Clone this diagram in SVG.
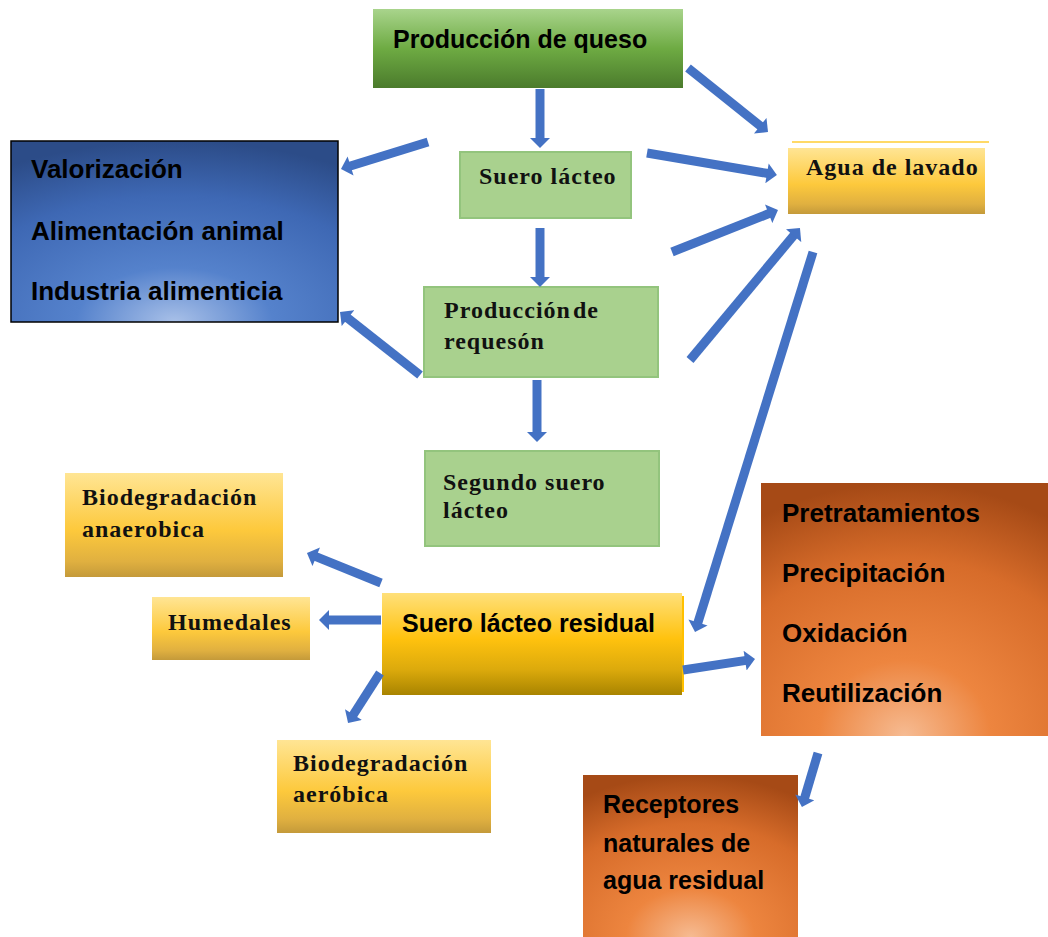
<svg xmlns="http://www.w3.org/2000/svg" width="1048" height="937" viewBox="0 0 1048 937">
<defs>
  <linearGradient id="gTop" x1="0" y1="0" x2="0" y2="1">
    <stop offset="0" stop-color="#a9d48c"/>
    <stop offset="0.5" stop-color="#6eab43"/>
    <stop offset="1" stop-color="#4b7b2c"/>
  </linearGradient>
  <radialGradient id="gBlue" cx="0.5" cy="1" r="1" fx="0.5" fy="1">
    <stop offset="0" stop-color="#a8c0e8"/>
    <stop offset="0.3" stop-color="#5582cc"/>
    <stop offset="0.7" stop-color="#3e68b4"/>
    <stop offset="1" stop-color="#2c4c88"/>
  </radialGradient>
  <linearGradient id="gYel" x1="0" y1="0" x2="0" y2="1">
    <stop offset="0" stop-color="#ffe594"/>
    <stop offset="0.55" stop-color="#fdc93c"/>
    <stop offset="0.85" stop-color="#e0b040"/>
    <stop offset="1" stop-color="#c49a3a"/>
  </linearGradient>
  <linearGradient id="gRes" x1="0" y1="0" x2="0" y2="1">
    <stop offset="0" stop-color="#ffe07a"/>
    <stop offset="0.45" stop-color="#ffc20e"/>
    <stop offset="0.75" stop-color="#dcaa0c"/>
    <stop offset="1" stop-color="#a88400"/>
  </linearGradient>
  <radialGradient id="gOr" cx="0.5" cy="1" r="1" fx="0.5" fy="1">
    <stop offset="0" stop-color="#f6bb92"/>
    <stop offset="0.3" stop-color="#ed853f"/>
    <stop offset="0.7" stop-color="#d76c2a"/>
    <stop offset="1" stop-color="#a64a16"/>
  </radialGradient>
  <marker id="ah" viewBox="0 0 10 20" refX="1" refY="10" markerUnits="userSpaceOnUse" markerWidth="11" markerHeight="20" orient="auto">
    <path d="M0,0 L10,10 L0,20 z" fill="#4472c4"/>
  </marker>
</defs>
<style>
  .sans{font-family:"Liberation Sans",Arial,sans-serif;font-weight:bold;font-size:25px;fill:#000}
  .big{font-size:26px}
  .serif{font-family:"Liberation Serif","Times New Roman",serif;font-weight:bold;font-size:24px;letter-spacing:1px;fill:#111}
  .lg{fill:#a9d18e;stroke:#93c47d;stroke-width:2}
  .arr{stroke:#4472c4;stroke-width:9;fill:none;marker-end:url(#ah)}
</style>
<rect width="1048" height="937" fill="#fff"/>

<g id="produccion-queso">
  <rect x="373" y="9" width="310" height="79" fill="url(#gTop)"/>
  <text class="sans" x="393" y="48">Producción de queso</text>
</g>
<g id="valorizacion">
  <rect x="11" y="141" width="327" height="181" fill="url(#gBlue)" stroke="#000" stroke-width="1.5"/>
  <text class="sans big" x="31" y="178">Valorización</text>
  <text class="sans big" x="31" y="240">Alimentación animal</text>
  <text class="sans big" x="31" y="300">Industria alimenticia</text>
</g>
<g id="suero-lacteo">
  <rect class="lg" x="460" y="152" width="171" height="66"/>
  <text class="serif" x="479" y="184" letter-spacing="0.3">Suero lácteo</text>
</g>
<g id="produccion-requeson">
  <rect class="lg" x="424" y="287" width="234" height="90"/>
  <text class="serif" x="444" y="318" word-spacing="-5">Producción de</text>
  <text class="serif" x="444" y="349">requesón</text>
</g>
<g id="segundo-suero">
  <rect class="lg" x="425" y="451" width="234" height="95"/>
  <text class="serif" x="443" y="490">Segundo suero</text>
  <text class="serif" x="443" y="518">lácteo</text>
</g>
<g id="agua-lavado">
  <line x1="792" y1="142" x2="989" y2="142" stroke="#ffd966" stroke-width="2"/>
  <rect x="788" y="148" width="197" height="66" fill="url(#gYel)"/>
  <text class="serif" x="806" y="175" letter-spacing="0.3">Agua de lavado</text>
</g>
<g id="biodeg-anaerobica">
  <rect x="65" y="473" width="218" height="104" fill="url(#gYel)"/>
  <text class="serif" x="82" y="505">Biodegradación</text>
  <text class="serif" x="82" y="537">anaerobica</text>
</g>
<g id="humedales">
  <rect x="152" y="597" width="158" height="63" fill="url(#gYel)"/>
  <text class="serif" x="168" y="630" letter-spacing="1.5">Humedales</text>
</g>
<g id="biodeg-aerobica">
  <rect x="277" y="740" width="214" height="93" fill="url(#gYel)"/>
  <text class="serif" x="293" y="771">Biodegradación</text>
  <text class="serif" x="293" y="802">aeróbica</text>
</g>
<g id="suero-residual">
  <rect x="382" y="593" width="300" height="102" fill="url(#gRes)"/>
  <line x1="683" y1="596" x2="683" y2="692" stroke="#ffc000" stroke-width="2"/>
  <text class="sans" x="402" y="632">Suero lácteo residual</text>
</g>
<g id="pretratamientos">
  <rect x="761" y="483" width="287" height="253" fill="url(#gOr)"/>
  <text class="sans big" x="782" y="522">Pretratamientos</text>
  <text class="sans big" x="782" y="582">Precipitación</text>
  <text class="sans big" x="782" y="642">Oxidación</text>
  <text class="sans big" x="782" y="702">Reutilización</text>
</g>
<g id="receptores">
  <rect x="583" y="775" width="215" height="162" fill="url(#gOr)"/>
  <text class="sans" x="603" y="813">Receptores</text>
  <text class="sans" x="603" y="852">naturales de</text>
  <text class="sans" x="603" y="889">agua residual</text>
</g>

<g id="connectors">
  <line class="arr" x1="540" y1="89" x2="540" y2="139"/>
  <line class="arr" x1="688" y1="68" x2="761" y2="126.4"/>
  <line class="arr" x1="647" y1="153" x2="768" y2="173.5"/>
  <line class="arr" x1="672" y1="252" x2="769.6" y2="213.3"/>
  <line class="arr" x1="690" y1="360" x2="794.2" y2="234.9"/>
  <line class="arr" x1="813" y1="252" x2="697.7" y2="623.4"/>
  <line class="arr" x1="428" y1="142" x2="349.6" y2="166.3"/>
  <line class="arr" x1="420" y1="375" x2="347.1" y2="317.6"/>
  <line class="arr" x1="540" y1="228" x2="540" y2="278"/>
  <line class="arr" x1="537" y1="380" x2="537" y2="433"/>
  <line class="arr" x1="381" y1="583" x2="315.3" y2="556.4"/>
  <line class="arr" x1="381" y1="620" x2="328" y2="620"/>
  <line class="arr" x1="380" y1="673" x2="352.9" y2="715.4"/>
  <line class="arr" x1="683" y1="670" x2="746.1" y2="660.4"/>
  <line class="arr" x1="818" y1="753" x2="804.5" y2="798.4"/>
</g>
</svg>
